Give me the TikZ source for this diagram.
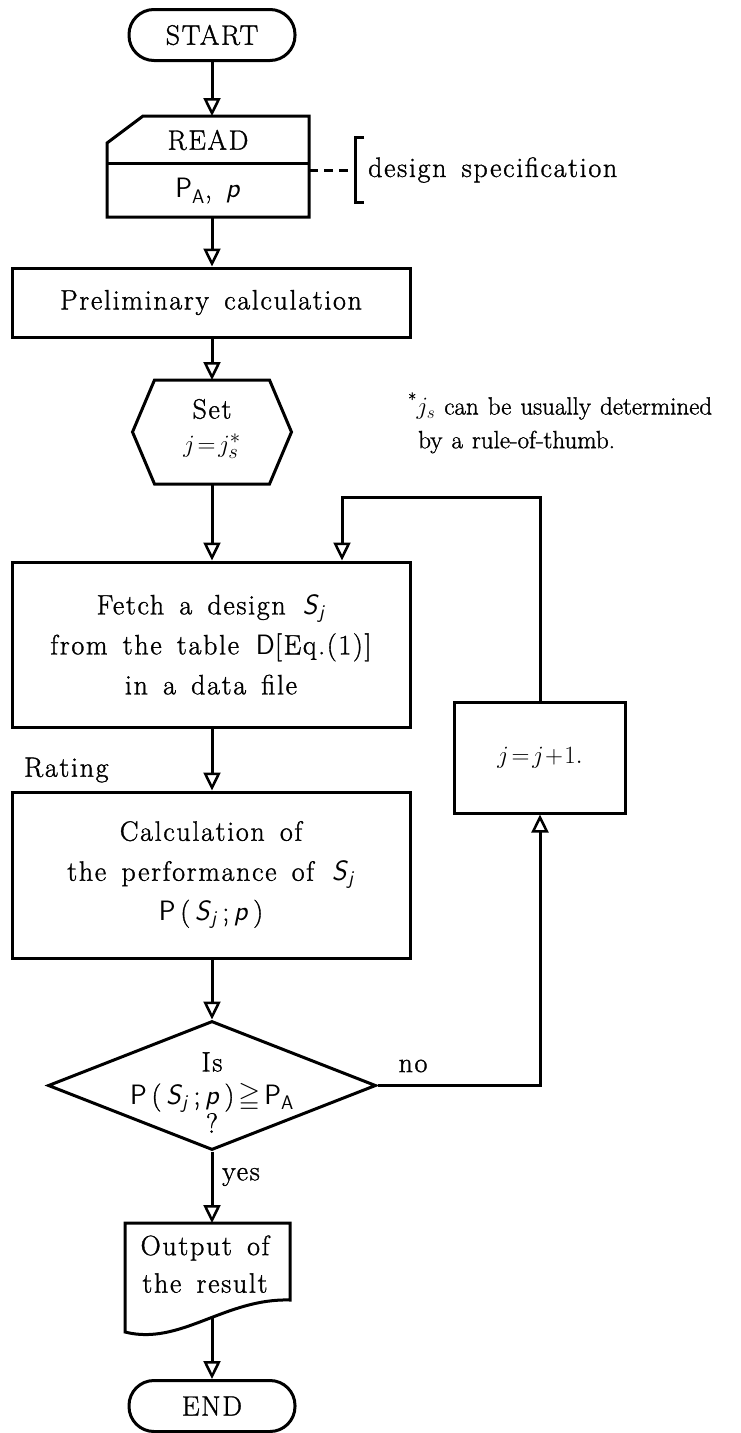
\documentclass[tikz,border=0pt]{standalone}
\usepackage{amssymb}
\usepackage{fontspec}
\setmainfont{Latin Modern Roman}[LetterSpace=6, WordSpace=1.5, FakeBold=1.2]
\newfontfamily\plainrm{Latin Modern Roman}[WordSpace=1.2, FakeBold=1.2]
\usetikzlibrary{arrows.meta,shapes.geometric}
\newcommand{\fsz}{\fontsize{28}{40}\selectfont}
\newcommand{\notesz}{\plainrm\fontsize{25}{36}\selectfont}
\newcommand{\sfi}[1]{\textsf{\itshape #1}}
\newcommand{\subj}{\textsubscript{\sfi{j}}}
\tikzset{
  ln/.style={line width=3pt},
  flow/.style={line width=3pt, -{Triangle[length=18pt,width=17pt,fill=white,line width=2.5pt]}},
  box/.style={draw, line width=3pt, rectangle, inner sep=0pt, align=center},
  terminal/.style={draw, line width=3pt, rectangle, rounded corners=25pt, minimum width=166pt, minimum height=51pt, inner sep=0pt},
  ghost/.style={inner sep=0pt, outer sep=0pt},
  txt/.style={inner sep=0pt}
}
\begin{document}
\begin{tikzpicture}[x=1pt,y=-1pt,font=\fsz]
\useasboundingbox (0,0) rectangle (740,1433);
% START
\node[terminal] (start) at (212,35) {START};
% READ
\node[ghost, minimum width=202pt, minimum height=101pt] (read) at (208,166.5) {};
\draw[ln, line join=miter] ([xshift=36pt]read.north west) -- (read.north east) -- (read.south east) -- (read.south west) -- ([yshift=-27pt]read.north west) -- cycle;
\coordinate (dv) at (208,163);
\draw[ln] (read.west |- dv) -- (read.east |- dv);
\node[txt] (readtxt) at (208,140) {READ};
\node[txt] (pap) at (208,191) {\textsf{P}\textsubscript{\textsf{A}},\enspace\sfi{p}};
% design specification
\coordinate (brk) at (353,170);
\draw[ln, dash pattern=on 9pt off 6pt] (read.east |- brk) -- (brk);
\draw[ln] (364,137) -- (355,137) -- (355,202) -- (364,202);
\node[txt, anchor=west] (spec) at (368,170) {design specification};
% Preliminary
\node[box, minimum width=398pt, minimum height=69pt] (pre) at (211,302.5) {Preliminary calculation};
% Set hexagon
\node[ghost, minimum width=159pt, minimum height=104pt] (set) at (212,432) {};
\draw[ln] (set.west) -- ([xshift=22pt]set.north west) -- ([xshift=-22pt]set.north east) -- (set.east) -- ([xshift=-22pt]set.south east) -- ([xshift=22pt]set.south west) -- cycle;
\node[txt] (settxt) at (212,409) {Set};
\node[txt] (setj) at (212,446) {$j\!=\!j_s^*$};
% note
\node[txt, anchor=west, font=\notesz] (note1) at (408,406) {\textsuperscript{*}$j_s$ can be usually determined};
\node[txt, anchor=west, font=\notesz] (note2) at (418,442) {by a rule-of-thumb.};
% Fetch
\node[box, minimum width=398pt, minimum height=165pt] (fetch) at (211,644.5) {Fetch a design \sfi{S}\subj\\ from the table \textsf{D}[Eq.(1)]\\ in a data file};
% j box
\node[box, minimum width=171pt, minimum height=111pt] (jbox) at (540,757.5) {$j\!=\!j\!+\!1.$};
% Rating
\node[txt, anchor=west] (rating) at (24,770) {Rating};
% Calculation
\node[box, minimum width=398pt, minimum height=166pt] (calc) at (211,875) {Calculation of\\ the performance of \sfi{S}\subj\\ \textsf{P}\,(\,\sfi{S}\subj\,;\,\sfi{p}\,)};
% Decision
\node[draw, diamond, line width=3pt, minimum width=328pt, minimum height=129pt, inner sep=0pt] (dec) at (212,1085.5) {};
\node[txt] (istxt) at (212,1062) {Is};
\node[txt] (cond) at (212,1098) {\textsf{P}\,(\,\sfi{S}\subj\,;\,\sfi{p}\,)$\,\geqq\,$\textsf{P}\textsubscript{\textsf{A}}};
\node[txt] (qm) at (212,1123) {?};
\node[txt] (no) at (413,1066) {no};
\node[txt, anchor=west] (yes) at (222,1177) {yes};
% Output document
\node[ghost, minimum width=165pt, minimum height=109pt] (out) at (207.5,1277.5) {};
\draw[ln] (out.north west) -- (out.north east) -- ([yshift=32pt]out.south east) .. controls (225,1298) and (180,1346) .. (out.south west) -- cycle;
\node[txt] (outtxt1) at (205,1248) {Output of};
\node[txt] (outtxt2) at (205,1283) {the result};
\coordinate (outb) at (212,1318);
% END
\node[terminal] (end) at (212,1406) {END};
% connectors
\draw[flow] (start.south) -- (start.south |- read.north);
\draw[flow] (start.south |- read.south) -- (start.south |- pre.north);
\draw[flow] (start.south |- pre.south) -- (start.south |- set.north);
\draw[flow] (set.south -| start.south) -- (start.south |- fetch.north);
\coordinate (loopL) at (342,497);
\draw[flow, line join=miter] (jbox.north) |- (loopL) -- (loopL |- fetch.north);
\draw[flow] (start.south |- fetch.south) -- (start.south |- calc.north);
\draw[flow] (start.south |- calc.south) -- (dec.north);
\draw[flow, line join=miter] (dec.east) -| (jbox.south);
\draw[flow] (dec.south) -- (dec.south |- out.north);
\draw[flow] (outb) -- (outb |- end.north);
\end{tikzpicture}
\end{document}
